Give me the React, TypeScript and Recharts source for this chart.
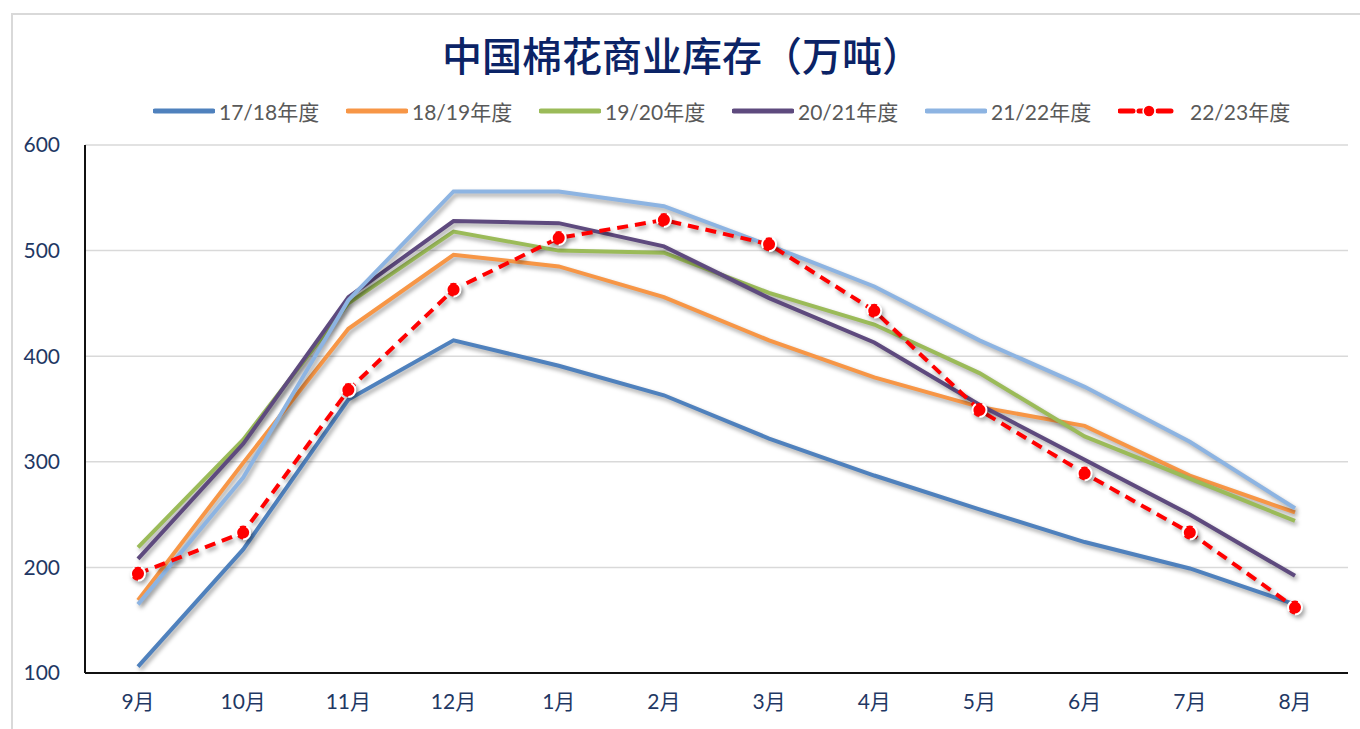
import { CartesianGrid, Line, LineChart, XAxis, YAxis } from "recharts";

const months = ["9月", "10月", "11月", "12月", "1月", "2月", "3月", "4月", "5月", "6月", "7月", "8月"];
const s1718 = [106, 217, 359, 415, 391, 363, 322, 287, 255, 224, 199, 165];
const s1819 = [169, 299, 426, 496, 485, 456, 415, 380, 352, 334, 287, 252];
const s1920 = [219, 321, 450, 518, 500, 498, 460, 430, 384, 324, 284, 244];
const s2021 = [208, 317, 456, 528, 526, 504, 455, 413, 354, 302, 250, 192];
const s2122 = [165, 285, 453, 556, 556, 542, 505, 466, 415, 371, 319, 256];
const s2223 = [194, 233, 368, 463, 512, 529, 506, 443, 349, 289, 233, 162];
const yTicks = [100, 200, 300, 400, 500, 600];

const series = [
  { key: "a", name: "17/18年度", values: s1718, color: "#4F81BD" },
  { key: "b", name: "18/19年度", values: s1819, color: "#F79646" },
  { key: "c", name: "19/20年度", values: s1920, color: "#9BBB59" },
  { key: "d", name: "20/21年度", values: s2021, color: "#5E4A7E" },
  { key: "e", name: "21/22年度", values: s2122, color: "#8DB4E2" },
  { key: "f", name: "22/23年度", values: s2223, color: "#FF0000", dashed: true },
];

const data = months.map((m, i) => {
  const row: Record<string, string | number> = { month: m };
  series.forEach((s) => (row[s.key] = s.values[i]));
  return row;
});

const navy = "#1F3864";
const font = "Lato, 'Noto Sans CJK SC', sans-serif";

function LegendRow() {
  return (
    <div style={{ position: "absolute", top: 96, left: 0, display: "flex", paddingLeft: 153, fontFamily: font }}>
      {series.map((s) => (
        <div key={s.key} style={{ width: 193, display: "flex", alignItems: "center" }}>
          <svg width={62} height={14} style={{ marginRight: s.dashed ? 10 : 4 }}>
            {s.dashed ? (
              <>
                <line x1={2} y1={7} x2={56} y2={7} stroke={s.color} strokeWidth={5} strokeDasharray="13 6" strokeLinecap="round" />
                <circle cx={31} cy={7} r={6} fill={s.color} stroke="#fff" strokeWidth={1.5} />
              </>
            ) : (
              <line x1={2} y1={7} x2={60} y2={7} stroke={s.color} strokeWidth={5} strokeLinecap="round" />
            )}
          </svg>
          <span style={{ fontSize: 21, color: "#595959", whiteSpace: "nowrap" }}>{s.name}</span>
        </div>
      ))}
    </div>
  );
}

export default function App() {
  return (
    <div style={{ position: "absolute", left: 0, top: 0, width: 1360, height: 729, overflow: "hidden", background: "#fff" }}>
      <style>{`.recharts-line-curve, .recharts-line-dots { filter: drop-shadow(2px 3px 2px rgba(0,0,0,0.35)); }`}</style>
      <div
        style={{
          position: "absolute",
          left: 11,
          top: 13,
          width: 1400,
          height: 800,
          border: "2px solid #d9d9d9",
        }}
      />
      <div
        style={{
          position: "absolute",
          left: 0,
          top: 27,
          width: 1364,
          textAlign: "center",
          fontFamily: "'Noto Sans CJK SC', sans-serif",
          fontWeight: 500,
          fontSize: 40,
          lineHeight: "54px",
          color: "#0B2366",
        }}
      >
        中国棉花商业库存（万吨）
      </div>
      <LegendRow />
      <LineChart width={1360} height={729} data={data} margin={{ top: 145, right: 12, left: 0, bottom: 0 }} style={{ position: "absolute", left: 0, top: 0 }}>
        <CartesianGrid vertical={false} stroke="#d9d9d9" strokeWidth={1.5} />
        <XAxis
          dataKey="month"
          height={56}
          padding={{ left: 53, right: 53 }}
          tickLine={false}
          tickSize={0}
          tickMargin={21}
          axisLine={{ stroke: "#111", strokeWidth: 2 }}
          tick={{ fontSize: 21, fill: navy, fontFamily: font }}
          interval={0}
        />
        <YAxis
          width={85}
          domain={[100, 600]}
          ticks={yTicks}
          tickLine={false}
          tickSize={0}
          tickMargin={25}
          axisLine={{ stroke: "#111", strokeWidth: 2 }}
          tick={{ fontSize: 21, fill: navy, fontFamily: font }}
          interval={0}
        />
        {series.map((s) =>
          s.dashed ? (
            <Line
              key={s.key}
              dataKey={s.key}
              name={s.name}
              stroke={s.color}
              strokeWidth={4}
              strokeDasharray="11 7"
              dot={{ r: 7, fill: s.color, stroke: "#fff", strokeWidth: 2 }}
              type="linear"
              isAnimationActive={false}
            />
          ) : (
            <Line
              key={s.key}
              dataKey={s.key}
              name={s.name}
              stroke={s.color}
              strokeWidth={4}
              dot={false}
              type="linear"
              isAnimationActive={false}
            />
          )
        )}
      </LineChart>
    </div>
  );
}
